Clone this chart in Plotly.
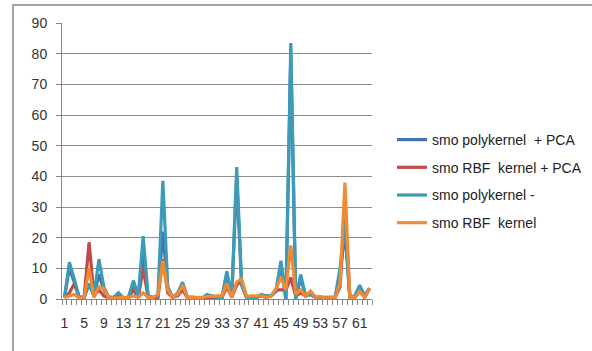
import plotly.graph_objects as go

categories = list(range(1, 64))
tick_labels = [1, 5, 9, 13, 17, 21, 25, 29, 33, 37, 41, 45, 49, 53, 57, 61]

poly_pca = [0.5, 10, 5.5, 0.5, 0.5, 5, 1, 8, 3, 0.5, 0.5, 1.5, 0.3, 0.5, 5, 1, 15, 1, 0.5, 1,
            22, 3.5, 0.5, 1.5, 5, 0.5, 0.5, 0.5, 0.3, 1.2, 1, 0.5, 0.5, 8, 0.5, 40, 4.5, 0.5, 0.5, 0.5,
            1.2, 1, 1, 2.5, 11, 0, 80, 0, 7, 1, 1.5, 0.5, 0.5, 0.3, 0.5, 0.5, 8, 22, 0.5, 1, 4, 1, 3.5]
rbf_pca = [0.5, 2, 5, 0.5, 0.5, 18.5, 1, 3, 1, 0.3, 0.3, 0.3, 0.3, 0.5, 3, 0.5, 10, 0.5, 0.5, 0.5,
           13, 2, 0.5, 1, 3, 0.3, 0.3, 0.3, 0.3, 0.5, 0.5, 0.5, 0.5, 4, 0.5, 4.5, 6, 0.5, 0.5, 0.5,
           1, 0.5, 1, 3, 3, 3, 7, 1, 2, 1, 2.5, 0.5, 0.5, 0.3, 0.3, 0.5, 4, 30, 0.5, 0.5, 2.5, 0.5, 3.5]
poly_plain = [0.5, 12, 6.5, 0.5, 0.5, 5, 1, 13, 4, 0.5, 0.5, 2, 0.3, 0.5, 6, 1, 20.5, 1, 0.5, 1,
              38.5, 4, 0.5, 2, 5.5, 0.5, 0.5, 0.5, 0.3, 1.5, 1, 0.5, 0.5, 9, 0.5, 43, 5, 0.5, 0.5, 0.5,
              1.5, 1, 1, 3, 12.5, 0, 83.5, 0, 8, 1, 1.5, 0.5, 0.5, 0.3, 0.5, 0.5, 10, 25, 0.5, 1, 4.5, 1, 3.5]
rbf_plain = [0.5, 1, 1.5, 0.3, 0.5, 10, 0.5, 4, 3.5, 0.3, 0.3, 0.3, 0.5, 0.5, 1, 0.5, 2, 0.5, 0.5, 1.5,
             12.5, 3, 0.5, 1.5, 4.5, 0.5, 0.5, 0.5, 0.5, 0.8, 1, 1, 1, 5, 0.5, 5.5, 6.5, 0.8, 1, 1,
             1, 0.5, 1, 3.5, 7, 3, 17.5, 1.5, 3, 1, 2.5, 0.5, 0.8, 0.3, 0.5, 0.5, 5, 38, 0.5, 0.5, 2.5, 0.5, 3.5]

series_names = ["smo polykernel  + PCA", "smo RBF  kernel + PCA", "smo polykernel -", "smo RBF  kernel"]
series_values = [poly_pca, rbf_pca, poly_plain, rbf_plain]
colors = ["#4272AD", "#BE4B48", "#3E9BB5", "#F08A35"]

FONT = "Liberation Sans"
fig = go.Figure()
for i, (name, vals, col) in enumerate(zip(series_names, series_values, colors)):
    fig.add_trace(go.Scatter(x=categories, y=vals, mode="lines", name=name,
                             line=dict(color=col, width=3.2), legendgroup=str(i)))

fig.update_layout(
    width=592, height=351, autosize=False,
    margin=dict(l=62, r=220, t=23, b=52, autoexpand=False),
    paper_bgcolor="white", plot_bgcolor="white",
    font=dict(family=FONT, size=14, color="#333333"),
    showlegend=True,
    legend=dict(xref="container", yref="container", x=392 / 592, y=1 - 124 / 351,
                xanchor="left", yanchor="top", itemwidth=30,
                font=dict(family=FONT, size=14, color="#222222"),
                tracegroupgap=6.5, bgcolor="rgba(0,0,0,0)"),
    xaxis=dict(range=[0.5, 63.5], tickmode="array", tickvals=tick_labels,
               ticktext=[str(t) for t in tick_labels], ticks="", showgrid=False,
               showline=True, linecolor="#868686", linewidth=1, zeroline=False,
               minor=dict(ticks="outside", tick0=0.5, dtick=1, ticklen=5,
                          tickcolor="#868686", showgrid=False),
               tickfont=dict(size=14), ticklabelstandoff=11),
    yaxis=dict(range=[0, 90], dtick=10, showgrid=True, gridcolor="#8C8C8C", gridwidth=1,
               showline=True, linecolor="#868686", linewidth=1, zeroline=False,
               ticks="outside", ticklen=5, tickcolor="#868686", tickfont=dict(size=14),
               ticklabelstandoff=6),
)

fig.add_shape(type="rect", xref="paper", yref="paper",
              x0=(13 - 62) / 310, x1=(620 - 62) / 310,
              y0=(299 - 380) / 276, y1=(299 - 5) / 276,
              line=dict(color="#868686", width=1.5), fillcolor="rgba(0,0,0,0)", layer="below")

fig.write_html("out.html")
